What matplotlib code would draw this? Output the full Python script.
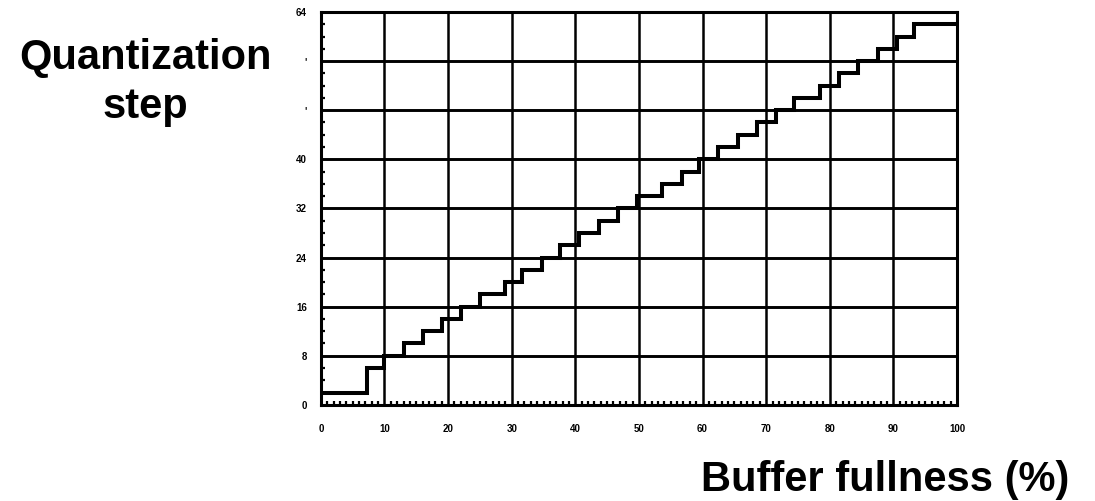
import matplotlib
matplotlib.use('Agg')
import matplotlib.pyplot as plt
from matplotlib.ticker import MultipleLocator

# buffer fullness (%) where each quantizer level begins, and the level itself
step_starts = [0, 7.2, 10, 13, 16, 19, 22, 25, 29, 31.6, 34.7, 37.6, 40.6, 43.7,
               46.7, 49.7, 53.6, 56.7, 59.5, 62.5, 65.5, 68.6, 71.6, 74.4, 78.5,
               81.5, 84.4, 87.5, 90.5, 93.3]
step_levels = [2, 6, 8, 10, 12, 14, 16, 18, 20, 22, 24, 26, 28, 30,
               32, 34, 36, 38, 40, 42, 44, 46, 48, 50, 52,
               54, 56, 58, 60, 62]
x_end = 100

x_ticks = [0, 10, 20, 30, 40, 50, 60, 70, 80, 90, 100]
y_ticks = [0, 8, 16, 24, 32, 40, 48, 56, 64]
y_tick_labels = ['0', '8', '16', '24', '32', '40', "'", "'", '64']

plt.rcParams['font.family'] = ['Liberation Sans', 'DejaVu Sans']

fig = plt.figure(figsize=(10.95, 5.01), dpi=100)
ax = fig.add_axes([0.293, 0.192, 0.581, 0.784])

# grid drawn by hand so it stays heavy like the scan
for xv in x_ticks:
    ax.axvline(xv, color='black', lw=1.8, zorder=1)
for yv in y_ticks:
    ax.axhline(yv, color='black', lw=2.1, zorder=1)

ax.step(step_starts + [x_end], step_levels + [step_levels[-1]], where='post',
        color='black', lw=2.9, zorder=3, solid_joinstyle='miter')

ax.set_xlim(0, 100)
ax.set_ylim(0, 64)
ax.set_xticks(x_ticks)
ax.set_yticks(y_ticks)
ax.set_yticklabels(y_tick_labels)
ax.xaxis.set_minor_locator(MultipleLocator(1))
ax.yaxis.set_minor_locator(MultipleLocator(2))
ax.tick_params(which='major', length=0, labelsize=7)
ax.tick_params(axis='x', which='major', pad=14)
ax.tick_params(axis='y', which='major', pad=10)
ax.tick_params(which='minor', direction='in', length=3, width=1.6, color='black')
for lab in ax.get_xticklabels() + ax.get_yticklabels():
    lab.set_fontweight('bold')
for sp in ax.spines.values():
    sp.set_linewidth(2.2)

fig.text(0.133, 0.884, 'Quantization', ha='center', va='center',
         fontsize=30, fontweight='bold')
fig.text(0.133, 0.786, 'step', ha='center', va='center',
         fontsize=30, fontweight='bold')
fig.text(0.808, 0.042, 'Buffer fullness (%)', ha='center', va='center',
         fontsize=30, fontweight='bold')

fig.savefig('out.png', dpi=100, facecolor='white')
